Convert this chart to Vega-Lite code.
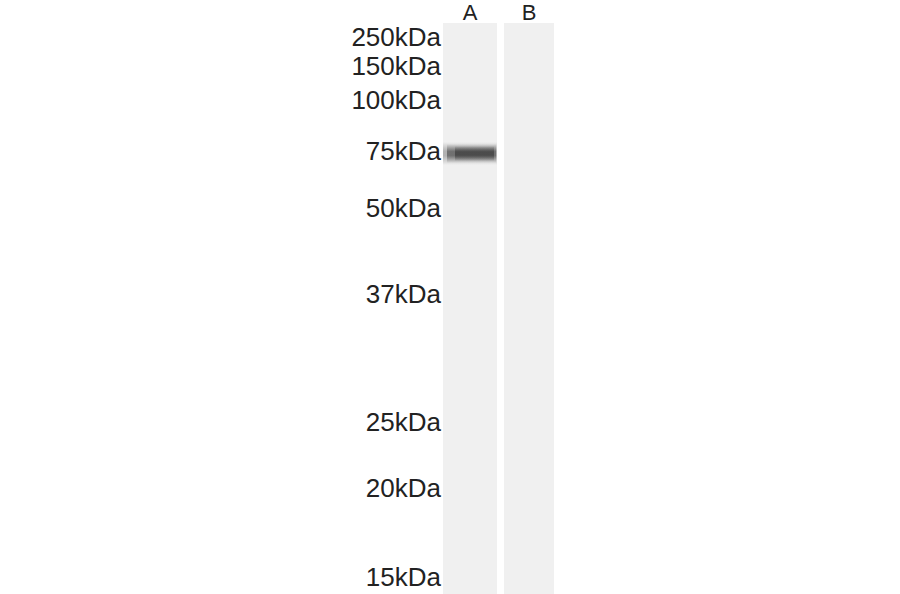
{
  "$schema": "https://vega.github.io/schema/vega-lite/v6.json",
  "width": 900,
  "height": 594,
  "autosize": {"type": "fit", "contains": "padding"},
  "padding": 0,
  "background": "white",
  "config": {"view": {"stroke": null}, "text": {"font": "Liberation Sans"}},
  "datasets": {
    "lanes": [
      {"lane": "A", "left": 443, "right": 497, "top": 23, "bottom": 594},
      {"lane": "B", "left": 504, "right": 554, "top": 23, "bottom": 594}
    ],
    "markers": [
      {"label": "250kDa", "migration": 38},
      {"label": "150kDa", "migration": 67},
      {"label": "100kDa", "migration": 101},
      {"label": "75kDa", "migration": 152},
      {"label": "50kDa", "migration": 209},
      {"label": "37kDa", "migration": 295},
      {"label": "25kDa", "migration": 423},
      {"label": "20kDa", "migration": 489},
      {"label": "15kDa", "migration": 578}
    ],
    "bands": [
      {"lane": "A", "part": "halo", "left": 443, "right": 497, "top": 142, "bottom": 165, "intensity": 0.35},
      {"lane": "A", "part": "body", "left": 447, "right": 496, "top": 144, "bottom": 163, "intensity": 0.55},
      {"lane": "A", "part": "core", "left": 455, "right": 494, "top": 146, "bottom": 161, "intensity": 0.7}
    ]
  },
  "layer": [
    {
      "data": {"name": "lanes"},
      "mark": {"type": "rect", "fill": "#f0f0f0"},
      "encoding": {
        "x": {"field": "left", "type": "quantitative", "scale": {"domain": [0, 900], "nice": false, "zero": false}, "axis": null},
        "x2": {"field": "right"},
        "y": {"field": "top", "type": "quantitative", "scale": {"domain": [0, 594], "reverse": true, "nice": false, "zero": false}, "axis": null},
        "y2": {"field": "bottom"}
      }
    },
    {
      "data": {"name": "bands"},
      "mark": {
        "type": "rect",
        "fill": {
          "gradient": "linear",
          "x1": 0, "y1": 0, "x2": 0, "y2": 1,
          "stops": [
            {"offset": 0, "color": "rgba(60,60,60,0)"},
            {"offset": 0.4, "color": "rgba(60,60,60,1)"},
            {"offset": 0.6, "color": "rgba(60,60,60,1)"},
            {"offset": 1, "color": "rgba(60,60,60,0)"}
          ]
        }
      },
      "encoding": {
        "x": {"field": "left", "type": "quantitative"},
        "x2": {"field": "right"},
        "y": {"field": "top", "type": "quantitative"},
        "y2": {"field": "bottom"},
        "opacity": {"field": "intensity", "type": "quantitative", "scale": null, "legend": null}
      }
    },
    {
      "data": {"name": "markers"},
      "mark": {"type": "text", "align": "right", "baseline": "middle", "fontSize": 26, "color": "#222222"},
      "encoding": {
        "x": {"datum": 441, "type": "quantitative"},
        "y": {"field": "migration", "type": "quantitative"},
        "text": {"field": "label"}
      }
    },
    {
      "data": {"name": "lanes"},
      "transform": [{"calculate": "(datum.left + datum.right) / 2", "as": "center"}],
      "mark": {"type": "text", "align": "center", "baseline": "middle", "fontSize": 22, "color": "#222222"},
      "encoding": {
        "x": {"field": "center", "type": "quantitative"},
        "y": {"datum": 13, "type": "quantitative"},
        "text": {"field": "lane"}
      }
    }
  ]
}
